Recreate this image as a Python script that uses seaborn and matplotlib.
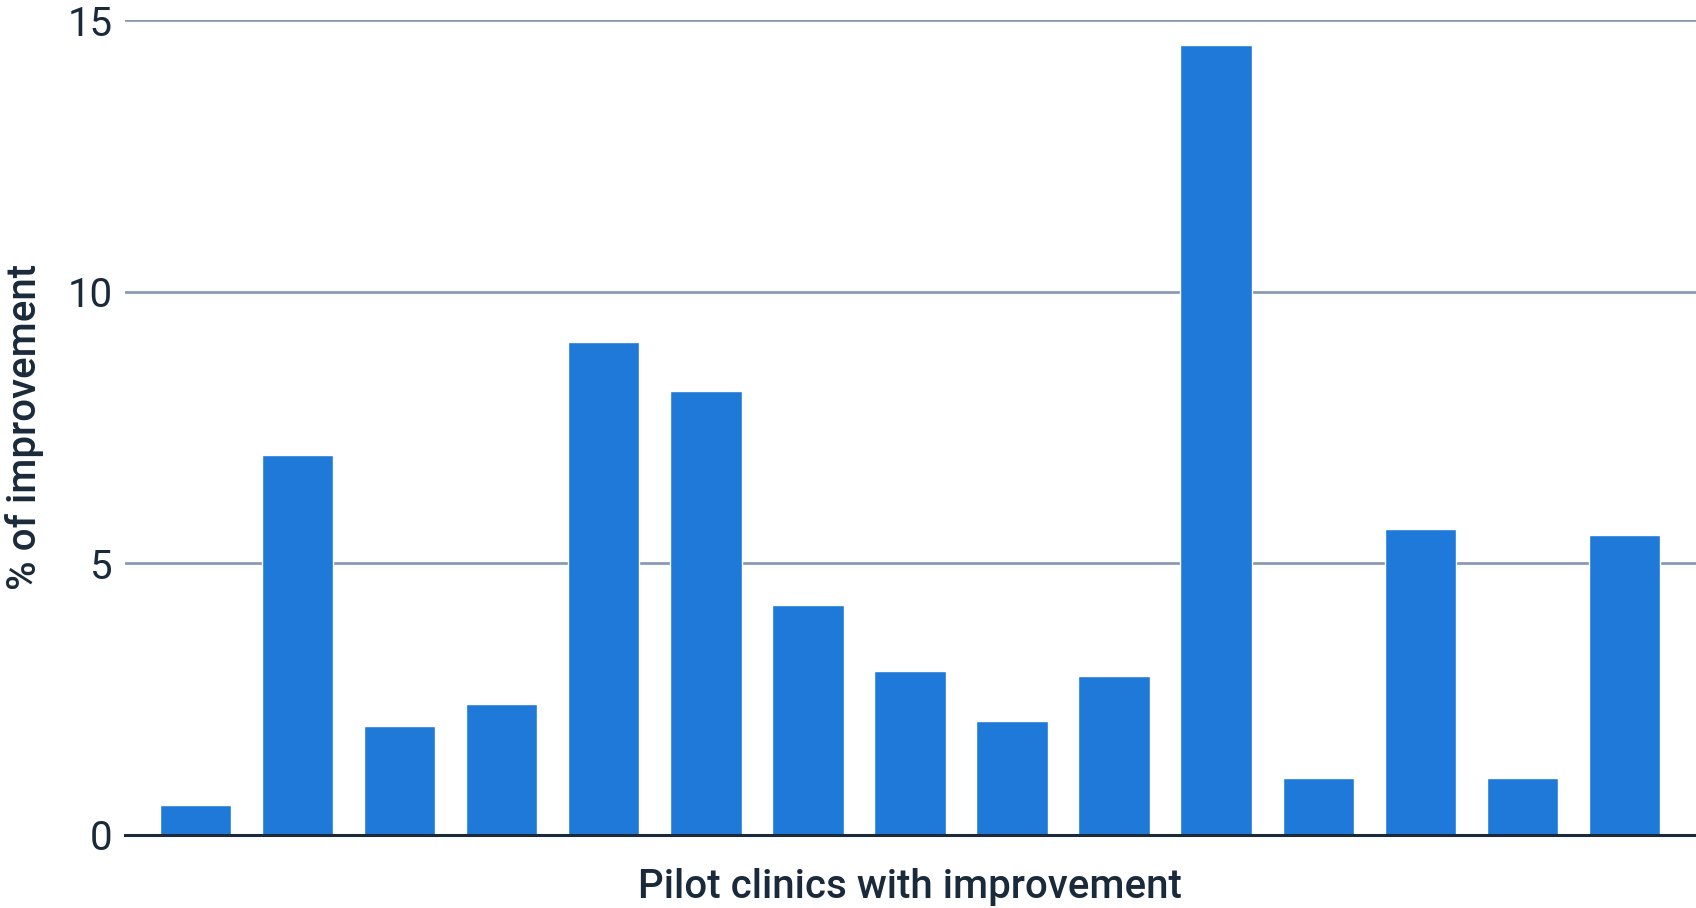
import matplotlib
matplotlib.use("Agg")
import matplotlib.pyplot as plt
import seaborn as sns
import pandas as pd

# Pilot clinics and their percentage improvement
clinics = [f"Clinic {i}" for i in range(1, 16)]
improvement = [0.56, 7.0, 2.0, 2.41, 9.08, 8.18, 4.23, 3.01, 2.10, 2.93,
               14.54, 1.05, 5.64, 1.05, 5.53]
y_ticks = [0, 5, 10, 15]

BAR_COLOR = "#1f79d8"
GRID_COLOR = "#8a9ab3"
TEXT_COLOR = "#1a2a3a"

sns.set_theme(style="white")
plt.rcParams["font.family"] = ["Roboto", "DejaVu Sans"]

df = pd.DataFrame({"clinic": clinics, "improvement": improvement})

fig = plt.figure(figsize=(16.96, 9.08), dpi=100)
ax = fig.add_axes([125 / 1696, 1 - 835 / 908, 1 - 125 / 1696, (835 - 20) / 908])

sns.barplot(data=df, x="clinic", y="improvement", color=BAR_COLOR,
            saturation=1, width=0.7, ax=ax, zorder=3)

ax.set_ylim(0, 15)
ax.set_xlim(-0.69, len(clinics) - 1 + 0.70)
ax.set_yticks(y_ticks)
ax.set_yticklabels([str(t) for t in y_ticks])
ax.yaxis.grid(True, color=GRID_COLOR, linewidth=2, zorder=0)
ax.xaxis.grid(False)
ax.set_axisbelow(True)

for side in ["top", "right", "left"]:
    ax.spines[side].set_visible(False)
ax.spines["bottom"].set_color(TEXT_COLOR)
ax.spines["bottom"].set_linewidth(2.2)
ax.spines["bottom"].set_zorder(4)

ax.tick_params(axis="x", bottom=False, labelbottom=False, length=0)
ax.tick_params(axis="y", left=False, length=0, labelsize=29,
               labelcolor=TEXT_COLOR, pad=9)

ax.set_xlabel("")
ax.set_ylabel("")
fig.text((125 + 1696) / 2 / 1696 - 0.0005, 1 - 887 / 908,
         "Pilot clinics with improvement", fontsize=29, fontweight="medium",
         color=TEXT_COLOR, ha="center", va="center")
fig.text(25 / 1696, 1 - 427 / 908, "% of improvement", fontsize=29,
         fontweight="medium", color=TEXT_COLOR, rotation=90,
         ha="center", va="center")

fig.savefig("out.png", dpi=100, facecolor="white")
